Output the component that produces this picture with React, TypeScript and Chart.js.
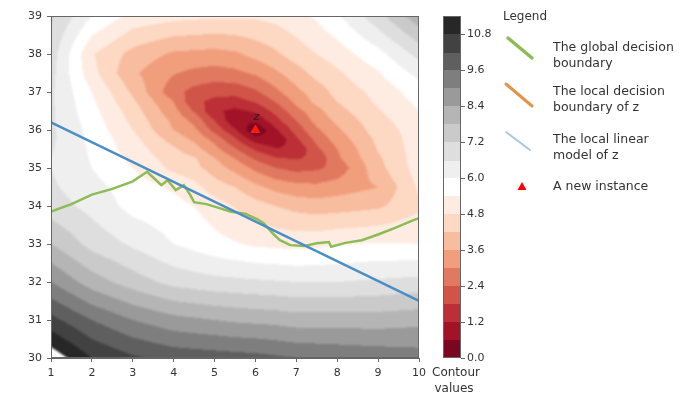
import React, { useEffect, useRef } from 'react';
import { Chart, registerables } from 'chart.js';

Chart.register(...registerables);

// ---- contour field ----
const gridX = [1, 2, 3, 4, 4.5, 5, 5.5, 6, 6.5, 7, 7.5, 8, 9, 10];
const gridY = [39, 38, 37.5, 37, 36.75, 36.5, 36.25, 36, 35.75, 35.5, 35.25, 35, 34.5, 34, 33, 32, 31, 30];

const row39 = [7.3, 6.0, 5.2, 5.0, 4.95, 4.9, 4.9, 4.9, 5.0, 5.2, 5.5, 5.9, 7.0, 8.2];
const row38 = [6.9, 4.85, 4.0, 3.5, 3.45, 3.4, 3.5, 3.8, 4.1, 4.5, 4.8, 5.1, 5.8, 6.8];
const row375 = [6.8, 5.0, 3.7, 3.05, 2.85, 2.75, 2.85, 3.1, 3.5, 3.95, 4.4, 4.7, 5.35, 6.2];
const row37 = [6.7, 5.4, 4.1, 2.6, 2.2, 2.0, 2.0, 2.3, 2.85, 3.45, 3.9, 4.4, 5.0, 5.7];
const row3675 = [6.7, 5.5, 4.3, 2.98, 1.95, 1.64, 1.55, 1.87, 2.44, 3.15, 3.77, 4.2, 4.9, 5.55];
const row365 = [6.7, 5.6, 4.5, 3.2, 2.35, 1.3, 1.05, 1.3, 2.0, 2.8, 3.4, 4.0, 4.75, 5.4];
const row3625 = [6.7, 5.7, 4.65, 3.45, 2.82, 1.8, 0.68, 0.75, 1.59, 2.42, 3.21, 3.75, 4.6, 5.2];
const row36 = [6.7, 5.8, 4.8, 3.6, 3.15, 2.2, 1.3, 0.05, 1.1, 2.05, 2.9, 3.5, 4.5, 5.1];
const row3575 = [6.7, 5.85, 5.0, 3.95, 3.5, 2.81, 1.9, 0.9, 0.68, 1.68, 2.59, 3.25, 4.35, 5.1];
const row355 = [6.65, 5.9, 5.1, 4.3, 3.85, 3.2, 2.45, 1.7, 1.25, 1.33, 2.25, 3.0, 4.25, 5.1];
const row3525 = [6.6, 5.95, 5.25, 4.5, 4.28, 3.63, 3.0, 2.31, 1.86, 1.75, 1.95, 2.88, 4.1, 5.1];
const row35 = [6.6, 6.0, 5.4, 4.65, 4.4, 3.9, 3.4, 2.85, 2.4, 2.2, 2.3, 2.6, 4.0, 5.1];
const row345 = [6.7, 6.2, 5.7, 5.3, 5.0, 4.5, 4.2, 3.75, 3.4, 3.2, 3.15, 3.3, 3.6, 4.9];
const row34 = [6.9, 6.4, 5.8, 5.6, 5.4, 5.1, 4.75, 4.45, 4.2, 4.0, 3.9, 3.95, 4.1, 4.7];
const row33 = [7.8, 7.0, 6.5, 6.0, 5.8, 5.6, 5.45, 5.3, 5.25, 5.2, 5.25, 5.35, 5.45, 5.4];
const row32 = [9.0, 8.1, 7.5, 7.0, 6.9, 6.8, 6.75, 6.7, 6.65, 6.6, 6.6, 6.6, 6.7, 6.8];
const row31 = [10.4, 9.6, 9.0, 8.6, 8.5, 8.4, 8.3, 8.25, 8.2, 8.1, 8.1, 8.1, 8.1, 8.2];
const row30 = [11.8, 10.8, 10.3, 10.0, 9.95, 9.9, 9.85, 9.8, 9.7, 9.6, 9.55, 9.5, 9.4, 9.3];

const fieldRows = [row39, row38, row375, row37, row3675, row365, row3625, row36, row3575, row355, row3525, row35, row345, row34, row33, row32, row31, row30];

const contourLevels = [0, 0.6, 1.2, 1.8, 2.4, 3.0, 3.6, 4.2, 4.8, 5.4, 6.0, 6.6, 7.2, 7.8, 8.4, 9.0, 9.6, 10.2, 10.8, 11.4];
const colorbarTicks = [0, 1.2, 2.4, 3.6, 4.8, 6.0, 7.2, 8.4, 9.6, 10.8];

// ---- lines and marker ----
const globalBoundaryX = [1, 1.5, 2, 2.5, 3, 3.35, 3.5, 3.7, 3.85, 4.05, 4.25, 4.4, 4.5, 4.8, 5.1, 5.4, 5.75, 6.05, 6.2, 6.45, 6.6, 6.85, 7.2, 7.5, 7.8, 7.85, 8.2, 8.6, 9.0, 9.4, 9.85, 10];
const globalBoundaryY = [33.85, 34.05, 34.3, 34.45, 34.65, 34.9, 34.75, 34.55, 34.68, 34.42, 34.55, 34.3, 34.1, 34.05, 33.95, 33.85, 33.8, 33.65, 33.55, 33.25, 33.1, 32.97, 32.95, 33.02, 33.05, 32.93, 33.03, 33.1, 33.25, 33.42, 33.62, 33.68];
const linearModelX = [1, 10];
const linearModelY = [36.2, 31.5];
const instanceX = [6];
const instanceY = [36];
const instanceLabel = 'z';

const legendTitle = 'Legend';
const legendLabels = [
  ['The global decision', 'boundary'],
  ['The local decision', 'boundary of z'],
  ['The local linear', 'model of z'],
  ['A new instance'],
];
const colorbarLabel = ['Contour', 'values'];

const RDGY = ['#67001f', '#b2182b', '#d6604d', '#f4a582', '#fddbc7', '#ffffff', '#e0e0e0', '#bababa', '#878787', '#4d4d4d', '#1a1a1a'];

function hexToRgb(h: string) {
  return [parseInt(h.slice(1, 3), 16), parseInt(h.slice(3, 5), 16), parseInt(h.slice(5, 7), 16)];
}
function cmap(t: number) {
  const p = Math.max(0, Math.min(1, t)) * (RDGY.length - 1);
  const i = Math.min(RDGY.length - 2, Math.floor(p));
  const f = p - i;
  const a = hexToRgb(RDGY[i]);
  const b = hexToRgb(RDGY[i + 1]);
  return [0, 1, 2].map((k) => Math.round(a[k] + (b[k] - a[k]) * f));
}
const vMin = contourLevels[0];
const vMax = contourLevels[contourLevels.length - 1];
const bandRGB = contourLevels.slice(0, -1).map((lv, k) => {
  const mid = (lv + contourLevels[k + 1]) / 2;
  return cmap((mid - vMin) / (vMax - vMin));
});
const rgbStr = (c: number[]) => `rgb(${c[0]},${c[1]},${c[2]})`;

function sampleField(x: number, y: number) {
  x = Math.max(gridX[0], Math.min(gridX[gridX.length - 1], x));
  y = Math.min(gridY[0], Math.max(gridY[gridY.length - 1], y));
  let i = 0;
  while (i < gridX.length - 2 && x > gridX[i + 1]) i++;
  let j = 0;
  while (j < gridY.length - 2 && y < gridY[j + 1]) j++;
  const tx = (x - gridX[i]) / (gridX[i + 1] - gridX[i]);
  const ty = (y - gridY[j]) / (gridY[j + 1] - gridY[j]);
  const v00 = fieldRows[j][i], v10 = fieldRows[j][i + 1];
  const v01 = fieldRows[j + 1][i], v11 = fieldRows[j + 1][i + 1];
  return (v00 * (1 - tx) + v10 * tx) * (1 - ty) + (v01 * (1 - tx) + v11 * tx) * ty;
}

function bandIndex(v: number) {
  for (let k = 0; k < contourLevels.length - 1; k++) {
    if (v < contourLevels[k + 1]) return k;
  }
  return -1;
}

const FONT = '"DejaVu Sans", sans-serif';
const GREEN = '#8cbc55';
const ORANGE = '#e0944c';
const BLUE = '#4b8ec6';
const BLUE_LEG = '#a9c8e2';

const fieldPlugin = {
  id: 'field',
  beforeDatasetsDraw(chart: any) {
    const { ctx, chartArea: a, scales } = chart;
    const xs = scales.x, ys = scales.y;
    const m = 4;
    const w = Math.round(a.right - a.left) + 2 * m, h = Math.round(a.bottom - a.top) + 2 * m;
    const off = document.createElement('canvas');
    off.width = w; off.height = h;
    const octx = off.getContext('2d')!;
    const img = octx.createImageData(w, h);
    for (let py = 0; py < h; py++) {
      const yv = ys.getValueForPixel(a.top - m + py + 0.5);
      for (let px = 0; px < w; px++) {
        const xv = xs.getValueForPixel(a.left - m + px + 0.5);
        const k = bandIndex(sampleField(xv, yv));
        const o = (py * w + px) * 4;
        if (k < 0) {
          img.data[o] = 255; img.data[o + 1] = 255; img.data[o + 2] = 255; img.data[o + 3] = 255;
          continue;
        }
        const c = bandRGB[k];
        img.data[o] = c[0]; img.data[o + 1] = c[1]; img.data[o + 2] = c[2]; img.data[o + 3] = 255;
      }
    }
    octx.putImageData(img, 0, 0);
    ctx.save();
    ctx.beginPath();
    ctx.rect(a.left, a.top, a.right - a.left, a.bottom - a.top);
    ctx.clip();
    ctx.filter = 'blur(0.8px)';
    ctx.drawImage(off, a.left - m, a.top - m);
    ctx.filter = 'none';
    ctx.restore();
  },
  afterDatasetsDraw(chart: any) {
    const { ctx, chartArea: a, scales } = chart;
    ctx.save();
    // frame
    ctx.strokeStyle = '#666';
    ctx.lineWidth = 1;
    ctx.strokeRect(a.left + 0.5, a.top + 0.5, a.right - a.left - 1, a.bottom - a.top - 1);
    // instance label
    ctx.fillStyle = '#222';
    ctx.font = `italic 11px ${FONT}`;
    ctx.textAlign = 'center';
    ctx.textBaseline = 'bottom';
    ctx.fillText(instanceLabel, scales.x.getPixelForValue(instanceX[0]) + 1, scales.y.getPixelForValue(instanceY[0]) - 7);

    // colorbar
    const cbL = 443, cbR = 461;
    const cbTop = a.top, cbBot = a.bottom;
    const vp = (v: number) => cbBot - ((v - vMin) / (vMax - vMin)) * (cbBot - cbTop);
    for (let k = 0; k < contourLevels.length - 1; k++) {
      const y0 = vp(contourLevels[k + 1]), y1 = vp(contourLevels[k]);
      ctx.fillStyle = rgbStr(bandRGB[k]);
      ctx.fillRect(cbL, Math.floor(y0), cbR - cbL, Math.ceil(y1) - Math.floor(y0));
    }
    ctx.strokeStyle = '#666';
    ctx.strokeRect(cbL + 0.5, cbTop + 0.5, cbR - cbL - 1, cbBot - cbTop - 1);
    ctx.fillStyle = '#333';
    ctx.font = `11px ${FONT}`;
    ctx.textAlign = 'left';
    ctx.textBaseline = 'middle';
    colorbarTicks.forEach((t) => {
      const y = Math.round(vp(t)) + 0.5;
      ctx.beginPath();
      ctx.moveTo(cbR, y); ctx.lineTo(cbR + 4, y);
      ctx.stroke();
      ctx.fillText(t.toFixed(1), cbR + 6, y);
    });
    ctx.textAlign = 'center';
    ctx.font = `12px ${FONT}`;
    ctx.fillText(colorbarLabel[0], 456, 373);
    ctx.fillText(colorbarLabel[1], 454, 389);

    // legend
    ctx.textAlign = 'left';
    ctx.font = `12px ${FONT}`;
    ctx.fillStyle = '#333';
    ctx.fillText(legendTitle, 503, 17);
    const icons = [
      { c: GREEN, w: 3.5, x0: 508, y0: 38, x1: 532, y1: 58 },
      { c: ORANGE, w: 3, x0: 506, y0: 84, x1: 532, y1: 106 },
      { c: BLUE_LEG, w: 2, x0: 506, y0: 132, x1: 530, y1: 150 },
    ];
    icons.forEach((ic) => {
      ctx.strokeStyle = ic.c;
      ctx.lineWidth = ic.w;
      ctx.lineCap = 'round';
      ctx.beginPath();
      ctx.moveTo(ic.x0, ic.y0); ctx.lineTo(ic.x1, ic.y1);
      ctx.stroke();
    });
    ctx.fillStyle = '#ff0000';
    ctx.beginPath();
    ctx.moveTo(522, 182); ctx.lineTo(526.5, 190); ctx.lineTo(517.5, 190); ctx.closePath();
    ctx.fill();
    ctx.fillStyle = '#333';
    ctx.font = `12.5px ${FONT}`;
    const textY = [[48, 64], [92, 108], [140, 156], [187]];
    legendLabels.forEach((lines, i) => {
      lines.forEach((ln, k) => ctx.fillText(ln, 553, textY[i][k]));
    });
    ctx.restore();
  },
};

export default function App() {
  const ref = useRef<HTMLCanvasElement | null>(null);
  useEffect(() => {
    document.body.style.margin = '0';
    const canvas = ref.current!;
    const chart = new Chart(canvas, {
      type: 'scatter',
      data: {
        datasets: [
          {
            label: 'A new instance',
            data: instanceX.map((x, i) => ({ x, y: instanceY[i] })),
            pointStyle: 'triangle',
            pointRadius: 5,
            backgroundColor: '#ff1a0a',
            borderColor: '#ff1a0a',
            order: 0,
          },
          {
            label: 'The local linear model of z',
            data: linearModelX.map((x, i) => ({ x, y: linearModelY[i] })),
            showLine: true,
            borderColor: BLUE,
            borderWidth: 2.5,
            pointRadius: 0,
            order: 1,
          },
          {
            label: 'The local decision boundary of z',
            data: [],
            showLine: true,
            borderColor: ORANGE,
            borderWidth: 2.5,
            pointRadius: 0,
            order: 2,
          },
          {
            label: 'The global decision boundary',
            data: globalBoundaryX.map((x, i) => ({ x, y: globalBoundaryY[i] })),
            showLine: true,
            borderColor: GREEN,
            borderWidth: 2.5,
            pointRadius: 0,
            order: 3,
          },
        ],
      },
      options: {
        animation: false,
        responsive: false,
        maintainAspectRatio: false,
        layout: { padding: { top: 16, right: 272, left: 0, bottom: 0 } },
        plugins: { legend: { display: false }, tooltip: { enabled: false } },
        scales: {
          x: {
            type: 'linear',
            min: 1,
            max: 10,
            ticks: { stepSize: 1, color: '#333', font: { family: FONT, size: 11 }, padding: 5 },
            grid: { drawOnChartArea: false, drawTicks: true, tickLength: 4, color: '#666' },
            border: { display: true, color: '#666' },
            afterFit: (s: any) => { s.height = 39; },
          },
          y: {
            type: 'linear',
            min: 30,
            max: 39,
            ticks: { stepSize: 1, color: '#333', font: { family: FONT, size: 11 }, padding: 5 },
            grid: { drawOnChartArea: false, drawTicks: true, tickLength: 4, color: '#666' },
            border: { display: true, color: '#666' },
            afterFit: (s: any) => { s.width = 51; },
          },
        },
      },
      plugins: [fieldPlugin],
    });
    return () => chart.destroy();
  }, []);
  return (
    <div style={{ width: 691, height: 397, background: '#fff' }}>
      <canvas ref={ref} width={691} height={397} style={{ display: 'block' }} />
    </div>
  );
}
